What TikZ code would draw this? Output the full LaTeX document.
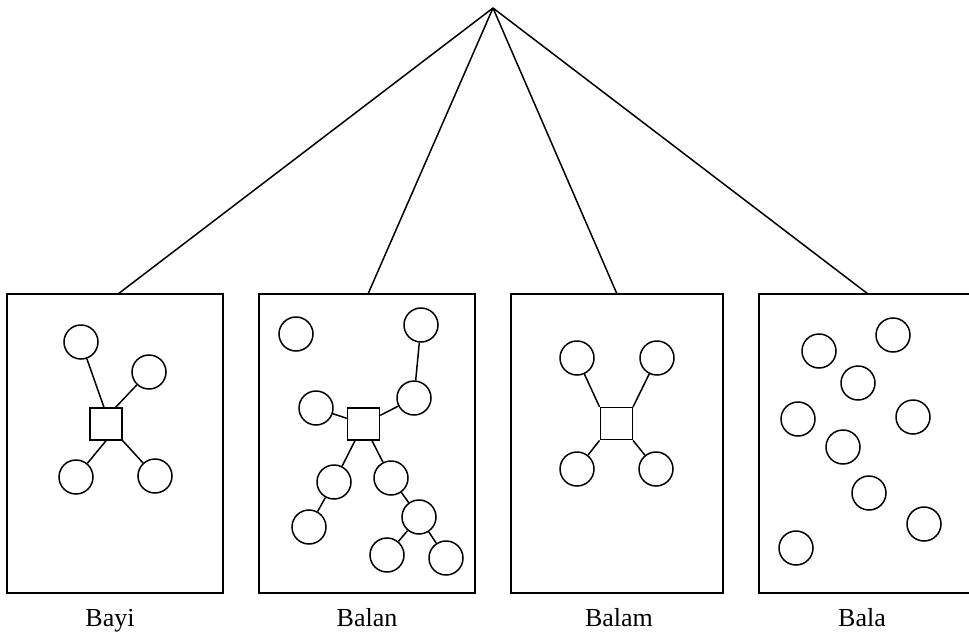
\documentclass[tikz,border=0pt]{standalone}
\usepackage{fontspec}
\setmainfont{Liberation Serif}
\begin{document}
\begin{tikzpicture}[x=1pt,y=-1pt,line width=1.5pt,
  panel/.style={draw,inner sep=0pt,minimum height=299pt},
  ring/.style={draw,circle,inner sep=0pt,minimum size=34pt},
  hub/.style={draw,rectangle,inner sep=0pt,minimum size=32pt},
  lbl/.style={anchor=base,font=\fontsize{26}{30}\selectfont}]
\clip (0,0) rectangle (969,633);
\useasboundingbox (0,0) rectangle (969,633);

% panels
\node[panel,minimum width=216pt] (b1) at (115,443.5) {};
\node[panel,minimum width=216pt] (b2) at (367,443.5) {};
\node[panel,minimum width=212pt] (b3) at (617,443.5) {};
\node[panel,minimum width=216pt] (b4) at (867,443.5) {};

% top tree
\coordinate (apex) at (493,8);
\coordinate (t1) at (118,294);
\coordinate (t2) at (368,294);
\coordinate (t3) at (617,294);
\coordinate (t4) at (868,294);
\draw (apex) -- (t1);
\draw (apex) -- (t2);
\draw (apex) -- (t3);
\draw (apex) -- (t4);

% panel 1: Bayi
\node[hub] (s1) at (106,424) {};
\node[ring] (a1) at (81,342) {};
\node[ring] (a2) at (149,372) {};
\node[ring] (a3) at (76,477) {};
\node[ring] (a4) at (155,476) {};
\draw (a1) -- (s1.97);
\draw (a2) -- (s1.60);
\draw (a3) -- (s1.south);
\draw (a4) -- (s1.south east);

% panel 2: Balan
\node[hub] (s2) at (363.5,424) {};
\node[ring] (e1) at (296,334) {};
\node[ring] (e2) at (421,325) {};
\node[ring] (e3) at (414,398) {};
\node[ring] (e4) at (316,408) {};
\node[ring] (e5) at (334,482) {};
\node[ring] (e6) at (391,478) {};
\node[ring] (e7) at (309,527) {};
\node[ring] (e8) at (419,517) {};
\node[ring] (e9) at (387,555) {};
\node[ring] (e10) at (446,558) {};
\draw (e2) -- (e3);
\draw (e3) -- (s2);
\draw (e4) -- (s2);
\draw (s2) -- (e5);
\draw (s2) -- (e6);
\draw (e5) -- (e7);
\draw (e6) -- (e8);
\draw (e8) -- (e9);
\draw (e8) -- (e10);

% panel 3: Balam
\node[hub] (s3) at (616.3,423.7) {};
\node[ring] (m1) at (577,358) {};
\node[ring] (m2) at (657,358) {};
\node[ring] (m3) at (577,469) {};
\node[ring] (m4) at (656,469) {};
\draw (m1) -- (s3.north west);
\draw (m2) -- (s3.north east);
\draw (m3) -- (s3.south west);
\draw (m4) -- (s3.south east);

% panel 4: Bala
\node[ring] (f1) at (819,351) {};
\node[ring] (f2) at (893,335) {};
\node[ring] (f3) at (858,383) {};
\node[ring] (f4) at (798,419) {};
\node[ring] (f5) at (913,417) {};
\node[ring] (f6) at (843,447) {};
\node[ring] (f7) at (869,493) {};
\node[ring] (f8) at (924,524) {};
\node[ring] (f9) at (796,548) {};

% labels
\node[lbl] (l1) at (110,626) {Bayi};
\node[lbl] (l2) at (367,626) {Balan};
\node[lbl] (l3) at (619,626) {Balam};
\node[lbl] (l4) at (862,626) {Bala};
\end{tikzpicture}
\end{document}
